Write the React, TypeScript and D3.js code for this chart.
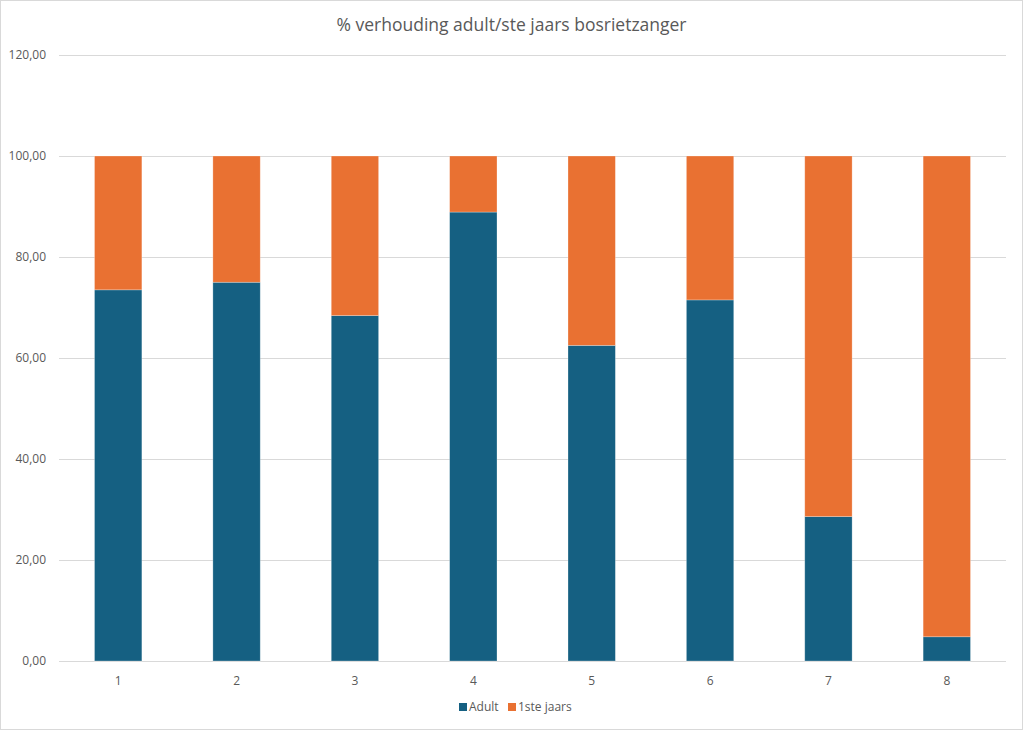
import { useEffect, useRef } from "react"
import * as d3 from "d3"

const categories = ["1", "2", "3", "4", "5", "6", "7", "8"]
const adult = [73.5, 75.0, 68.4, 88.9, 62.5, 71.5, 28.6, 4.8]
const eersteJaars = [26.5, 25.0, 31.6, 11.1, 37.5, 28.5, 71.4, 95.2]
const yTicks = [0, 20, 40, 60, 80, 100, 120]
const seriesNames = ["Adult", "1ste jaars"]
const colors = ["#156082", "#E97132"]

const W = 1023
const H = 730
const FONT = "'Open Sans', 'Noto Sans', sans-serif"

export default function App() {
  const svgRef = useRef<SVGSVGElement>(null)

  useEffect(() => {
    if (!svgRef.current) return
    const svg = d3.select(svgRef.current)
    svg.selectAll("*").remove()

    const margin = { top: 55, right: 17, bottom: 69, left: 59 }
    const width = W - margin.left - margin.right
    const height = H - margin.top - margin.bottom

    // chart border
    svg.append("rect")
      .attr("x", 0.5).attr("y", 0.5)
      .attr("width", W - 1).attr("height", H - 1)
      .attr("fill", "#fff")
      .attr("stroke", "#d9d9d9")

    // title
    svg.append("text")
      .attr("x", W / 2).attr("y", 31)
      .attr("text-anchor", "middle")
      .attr("font-family", FONT)
      .attr("font-size", "17.5px")
      .attr("fill", "#595959")
      .text("% verhouding adult/ste jaars bosrietzanger")

    const x = d3.scaleBand().domain(categories).range([0, width]).paddingInner(0.6).paddingOuter(0.3)
    const y = d3.scaleLinear().domain([0, 120]).range([height, 0])

    const g = svg.append("g").attr("transform", `translate(${margin.left},${margin.top})`)

    // grid lines
    g.append("g")
      .selectAll("line")
      .data(yTicks)
      .enter()
      .append("line")
      .attr("x1", 0).attr("x2", width)
      .attr("y1", (d) => Math.round(y(d)) + 0.5)
      .attr("y2", (d) => Math.round(y(d)) + 0.5)
      .attr("stroke", "#d9d9d9")
      .attr("stroke-width", 1)

    // y labels
    g.append("g")
      .selectAll("text")
      .data(yTicks)
      .enter()
      .append("text")
      .attr("x", -13)
      .attr("y", (d) => y(d))
      .attr("dy", "0.35em")
      .attr("text-anchor", "end")
      .attr("font-family", FONT)
      .attr("font-size", "12px")
      .attr("fill", "#595959")
      .text((d) => d3.format(".2f")(d).replace(".", ","))

    // stacked bars
    const rows = categories.map((c, i) => ({ cat: c, Adult: adult[i], "1ste jaars": eersteJaars[i] }))
    const stack = d3.stack<any>().keys(seriesNames)(rows)

    stack.forEach((layer, si) => {
      g.append("g")
        .selectAll("rect")
        .data(layer)
        .enter()
        .append("rect")
        .attr("x", (d) => x(d.data.cat) || 0)
        .attr("y", (d) => y(d[1]))
        .attr("width", x.bandwidth())
        .attr("height", (d) => y(d[0]) - y(d[1]))
        .attr("fill", colors[si])
        .attr("stroke", "#ffffff")
        .attr("stroke-opacity", 0.35)
        .attr("stroke-width", 0.75)
    })

    // x labels
    g.append("g")
      .selectAll("text")
      .data(categories)
      .enter()
      .append("text")
      .attr("x", (d) => (x(d) || 0) + x.bandwidth() / 2)
      .attr("y", height + 24)
      .attr("text-anchor", "middle")
      .attr("font-family", FONT)
      .attr("font-size", "12px")
      .attr("fill", "#595959")
      .text((d) => d)

    // legend
    const legend = svg.append("g").attr("transform", `translate(459, 707)`)
    const offsets = [0, 49]
    seriesNames.forEach((name, i) => {
      const item = legend.append("g").attr("transform", `translate(${offsets[i]},0)`)
      item.append("rect")
        .attr("x", 0).attr("y", -4)
        .attr("width", 8).attr("height", 8)
        .attr("fill", colors[i])
      item.append("text")
        .attr("x", 10).attr("y", 0)
        .attr("dy", "0.35em")
        .attr("font-family", FONT)
        .attr("font-size", "12px")
        .attr("fill", "#595959")
        .text(name)
    })
  }, [])

  return (
    <div style={{ position: "absolute", left: 0, top: 0, width: W, height: H }}>
      <svg ref={svgRef} width={W} height={H} />
    </div>
  )
}
